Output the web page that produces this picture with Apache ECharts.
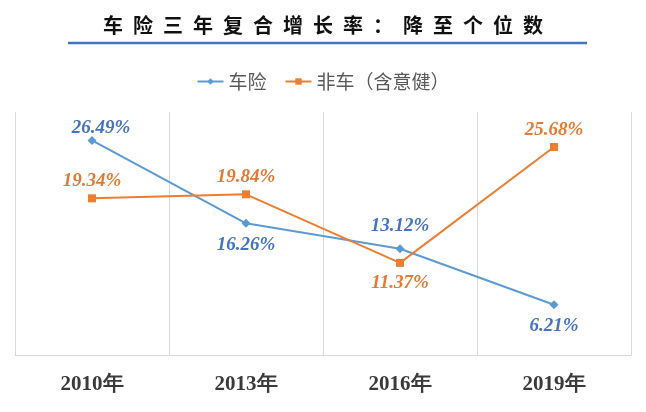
<!DOCTYPE html>
<html><head><meta charset="utf-8">
<script src="https://cdn.jsdelivr.net/npm/echarts@6/dist/echarts.min.js"></script>
<style>html,body{margin:0;padding:0;background:#fff}#c{width:646px;height:412px}</style>
</head><body><div id="c"></div>
<script>
const titleText = '车险三年复合增长率：降至个位数';
const categories = ['2010年', '2013年', '2016年', '2019年'];
const seriesNames = ['车险', '非车（含意健）'];
const autoValues = [26.49, 16.26, 13.12, 6.21];
const nonAutoValues = [19.34, 19.84, 11.37, 25.68];
const autoLabelPos = ['top', 'bottom', 'top', 'bottom'];
const nonAutoLabelPos = ['top', 'top', 'bottom', 'top'];

const chart = echarts.init(document.getElementById('c'));
const labelFont = {fontFamily: '"Liberation Serif", "Times New Roman", serif', fontWeight: 'bold', fontStyle: 'italic', fontSize: 19};
const autoLabelStyle = [{distance: -2, offset: [9, 0]}, {distance: 8}, {distance: 9}, {distance: 7}];
const nonAutoLabelStyle = [{distance: 4}, {distance: 4}, {distance: 7}, {distance: 3}];
function mk(vals, pos, st) {
  return vals.map((v, i) => ({value: v, label: Object.assign({position: pos[i]}, st[i])}));
}
chart.setOption({
  animation: false,
  backgroundColor: '#fff',
  title: {
    text: titleText.split('').join('\u2002'),
    left: 'center', top: 10,
    textStyle: {fontFamily: '"Noto Sans CJK SC", sans-serif', fontWeight: 'bold', fontSize: 20, color: '#111'}
  },
  graphic: [{type: 'line', shape: {x1: 68, y1: 43, x2: 587, y2: 43}, style: {stroke: '#4472C4', lineWidth: 2.5}}],
  legend: {
    top: 67, left: 'center', itemGap: 18, itemWidth: 26, itemHeight: 8,
    textStyle: {fontFamily: '"Noto Sans CJK SC", sans-serif', fontSize: 19, color: '#595959'},
    data: seriesNames
  },
  grid: {left: 15, right: 15, top: 112, bottom: 57},
  xAxis: {
    type: 'category', data: categories, boundaryGap: true,
    axisLine: {show: true, lineStyle: {color: '#D9D9D9', width: 1}},
    axisTick: {show: false},
    splitLine: {show: true, lineStyle: {color: '#D9D9D9', width: 1}},
    axisLabel: {margin: 19, color: '#3A3A3A', fontFamily: '"Liberation Serif", "Times New Roman", serif', fontWeight: 'bold', fontSize: 21}
  },
  yAxis: {type: 'value', min: 0, max: 30, show: false, splitLine: {show: false}},
  series: [
    {name: seriesNames[0], type: 'line', data: mk(autoValues, autoLabelPos, autoLabelStyle),
     symbol: 'diamond', symbolSize: 9, color: '#5B9BD5', lineStyle: {width: 2, color: '#5B9BD5'},
     itemStyle: {color: '#5B9BD5'},
     label: Object.assign({show: true, color: '#4472C4', formatter: p => p.value.toFixed(2) + '%'}, labelFont)},
    {name: seriesNames[1], type: 'line', data: mk(nonAutoValues, nonAutoLabelPos, nonAutoLabelStyle),
     symbol: 'rect', symbolSize: 8, color: '#ED7D31', lineStyle: {width: 2, color: '#ED7D31'},
     itemStyle: {color: '#ED7D31'},
     label: Object.assign({show: true, color: '#E27A35', formatter: p => p.value.toFixed(2) + '%'}, labelFont)}
  ]
});
</script></body></html>
